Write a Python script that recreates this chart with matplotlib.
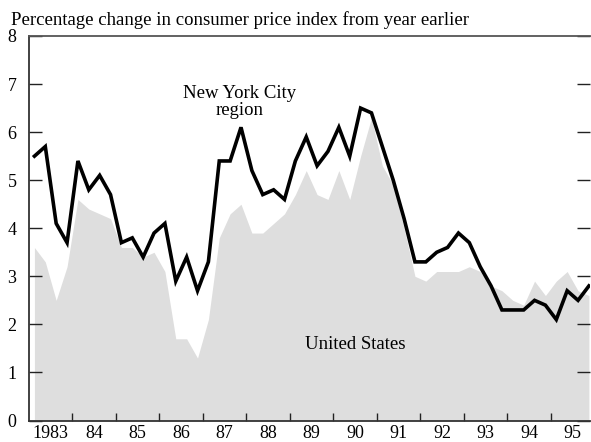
import matplotlib.pyplot as plt
import numpy as np

plt.rcParams['font.family'] = ['Liberation Serif', 'DejaVu Serif']

# quarterly data, 1983Q1 - 1995Q4
years = list(range(1983, 1996))
nyc = [5.5, 5.7, 4.1, 3.7,
       5.4, 4.8, 5.1, 4.7,
       3.7, 3.8, 3.4, 3.9,
       4.1, 2.9, 3.4, 2.7,
       3.3, 5.4, 5.4, 6.1,
       5.2, 4.7, 4.8, 4.6,
       5.4, 5.9, 5.3, 5.6,
       6.1, 5.5, 6.5, 6.4,
       5.7, 5.0, 4.2, 3.3,
       3.3, 3.5, 3.6, 3.9,
       3.7, 3.2, 2.8, 2.3,
       2.3, 2.3, 2.5, 2.4,
       2.1, 2.7, 2.5, 2.8]
us = [3.6, 3.3, 2.5, 3.2,
      4.6, 4.4, 4.3, 4.2,
      3.6, 3.6, 3.4, 3.5,
      3.1, 1.7, 1.7, 1.3,
      2.1, 3.8, 4.3, 4.5,
      3.9, 3.9, 4.1, 4.3,
      4.7, 5.2, 4.7, 4.6,
      5.2, 4.6, 5.5, 6.3,
      5.3, 4.9, 4.0, 3.0,
      2.9, 3.1, 3.1, 3.1,
      3.2, 3.1, 2.8, 2.7,
      2.5, 2.4, 2.9, 2.6,
      2.9, 3.1, 2.7, 2.6]
year_labels = ['1983', '84', '85', '86', '87', '88', '89', '90', '91', '92', '93', '94', '95']

x = np.array([y + (q + 0.5) / 4 for y in years for q in range(4)])

fig = plt.figure(figsize=(5.91, 4.42), dpi=100)
ax = fig.add_axes([29 / 591, 1 - 420.5 / 442, 561 / 591, 384.5 / 442])

ax.fill_between(x, 0, us, color='#dedede', linewidth=0)
ax.plot(x, nyc, color='black', linewidth=2.6, solid_joinstyle='miter')

ax.set_xlim(1983, 1995.9)
ax.set_ylim(0, 8)

# year boundaries get tick marks, labels sit mid-year
ax.set_xticks(np.arange(1984, 1996))
ax.set_xticklabels([])
ax.set_xticks(np.array(years) + 0.5, minor=True)
ax.set_xticklabels(year_labels, minor=True, fontsize=13)
ax.tick_params(axis='x', which='major', direction='in', length=6, width=1, color='#222222')
ax.tick_params(axis='x', which='minor', length=0, pad=3.5)

ax.set_yticks(range(0, 9))
ax.set_yticklabels([str(v) for v in range(0, 9)], fontsize=13)
ax.tick_params(axis='y', direction='in', length=9.5, width=1, color='#222222',
               right=True, pad=9)

for s in ['left', 'bottom']:
    ax.spines[s].set_color('#333333')
    ax.spines[s].set_linewidth(1.3)
ax.spines['top'].set_color('#555555')
ax.spines['top'].set_linewidth(1.3)
ax.spines['right'].set_visible(False)

fig.text(11 / 591, 1 - 20 / 442, 'Percentage change in consumer price index from year earlier',
         fontsize=13.5, ha='left', va='center')
ax.text(1987.84, 6.63, 'New York City\nregion', fontsize=13.5, ha='center', va='center',
        linespacing=1.05)
ax.text(1990.5, 1.59, 'United States', fontsize=13.5, ha='center', va='center')

fig.savefig('out.png', dpi=100)
